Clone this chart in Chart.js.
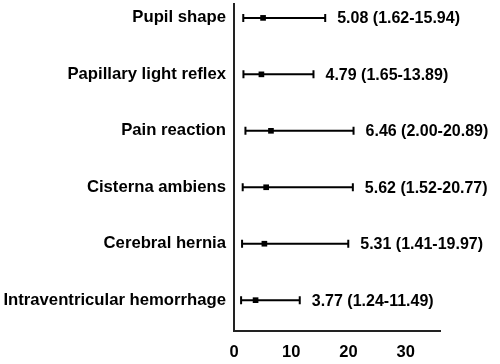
<!DOCTYPE html>
<html>
<head>
<meta charset="utf-8">
<script src="https://cdn.jsdelivr.net/npm/chart.js@4"></script>
<style>
  html, body { margin: 0; padding: 0; background: #fff; }
  #wrap { width: 500px; height: 364px; }
</style>
</head>
<body>
<div id="wrap"><canvas id="chartForest"></canvas></div>
<script>
// data: bottom row first
const labels = ["Intraventricular hemorrhage", "Cerebral hernia", "Cisterna ambiens", "Pain reaction", "Papillary light reflex", "Pupil shape"];
const orValues = [3.77, 5.31, 5.62, 6.46, 4.79, 5.08];
const ciLow = [1.24, 1.41, 1.52, 2.00, 1.65, 1.62];
const ciHigh = [11.49, 19.97, 20.77, 20.89, 13.89, 15.94];
const xTicks = [0, 10, 20, 30];

const FONT = "'Liberation Sans', Arial, sans-serif";

// whiskers + text next to each row
const errorBars = {
  id: "errorBars",
  afterDatasetsDraw(chart) {
    const ctx = chart.ctx, xs = chart.scales.x, ys = chart.scales.y;
    ctx.save();
    ctx.strokeStyle = "#000";
    ctx.lineWidth = 2;
    labels.forEach((l, i) => {
      const y = ys.getPixelForValue(i + 1);
      const x1 = xs.getPixelForValue(ciLow[i]);
      const x2 = xs.getPixelForValue(ciHigh[i]);
      ctx.beginPath();
      ctx.moveTo(x1, y); ctx.lineTo(x2, y);
      ctx.moveTo(x1, y - 4); ctx.lineTo(x1, y + 4);
      ctx.moveTo(x2, y - 4); ctx.lineTo(x2, y + 4);
      ctx.stroke();
      ctx.fillStyle = "#000";
      ctx.font = "bold 16px " + FONT;
      ctx.textAlign = "left";
      ctx.textBaseline = "middle";
      ctx.fillText(orValues[i].toFixed(2) + " (" + ciLow[i].toFixed(2) + "-" + ciHigh[i].toFixed(2) + ")", x2 + 12, y + 1);
    });
    ctx.restore();
  }
};

new Chart(document.getElementById("chartForest"), {
  type: "scatter",
  data: {
    datasets: [{
      data: orValues.map((v, i) => ({ x: v, y: i + 1 })),
      pointStyle: "rect",
      pointRadius: 4,
      backgroundColor: "#000",
      borderColor: "#000",
      borderWidth: 0
    }]
  },
  options: {
    responsive: true,
    maintainAspectRatio: false,
    animation: false,
    layout: { padding: { top: 0, right: 60, bottom: 0, left: 0 } },
    plugins: { legend: { display: false }, tooltip: { enabled: false } },
    scales: {
      x: {
        type: "linear",
        min: 0,
        max: 36,
        afterBuildTicks: s => { s.ticks = xTicks.map(v => ({ value: v })); },
        grid: { display: false, drawTicks: true, tickLength: 6, tickColor: "#222", tickWidth: 2 },
        border: { color: "#222", width: 2 },
        ticks: { color: "#000", font: { family: FONT, size: 16.5, weight: "bold" }, padding: 6, maxRotation: 0 },
        afterFit: s => { s.height = 33; s.paddingLeft = 0; s.paddingRight = 0; }
      },
      y: {
        type: "linear",
        min: 0.454,
        max: 6.246,
        afterBuildTicks: s => { s.ticks = labels.map((l, i) => ({ value: i + 1 })); },
        grid: { display: false, drawTicks: true, tickLength: 5, tickColor: "#222", tickWidth: 1.5 },
        border: { color: "#222", width: 2 },
        ticks: {
          color: "#000",
          font: { family: FONT, size: 16.7, weight: "bold" },
          padding: 3,
          callback: (v) => labels[v - 1]
        },
        afterFit: s => { s.width = 234; s.paddingTop = 0; s.paddingBottom = 0; }
      }
    }
  },
  plugins: [errorBars]
});
</script>
</body>
</html>
